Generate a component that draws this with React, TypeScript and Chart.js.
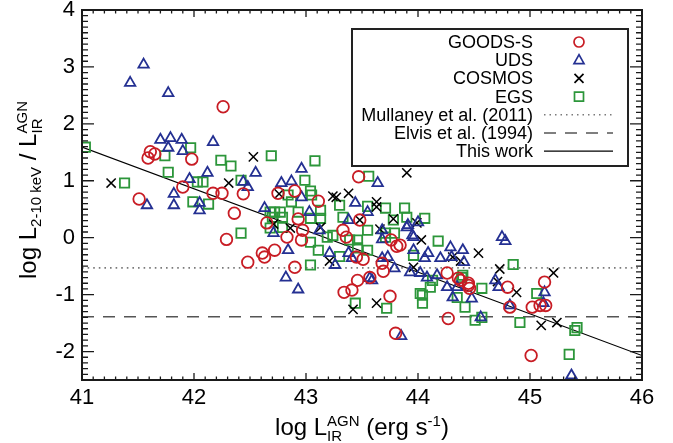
import React, { useEffect, useRef } from "react";
import { Chart, registerables } from "chart.js";

Chart.register(...registerables);

// ---------- data ----------
const xTicks = [41, 42, 43, 44, 45, 46];
const yTicks = [-2, -1, 0, 1, 2, 3, 4];
const xRange = [41, 46];
const yRange = [-2.5, 4];

const legendLabels = [
  "GOODS-S",
  "UDS",
  "COSMOS",
  "EGS",
  "Mullaney et al. (2011)",
  "Elvis et al. (1994)",
  "This work",
];

const goodsX = [42.26, 41.61, 41.65, 41.59, 41.98, 41.9, 42.17, 42.25, 42.44, 41.51, 42.36, 42.65, 42.29, 42.75, 42.9, 43.11, 43.47, 42.93, 42.97, 42.96, 42.83, 42.72, 42.61, 42.63, 42.48, 42.9, 43.33, 43.36, 43.45, 43.51, 43.68, 43.69, 43.57, 43.46, 43.41, 43.34, 43.75, 43.8, 43.76, 43.81, 43.48, 43.84, 44.26, 44.36, 44.45, 44.46, 44.38, 44.45, 44.8, 44.27, 45.13, 45.02, 45.09, 45.14, 44.82, 45.01];
const goodsY = [2.3, 1.51, 1.47, 1.4, 1.38, 0.89, 0.78, 0.78, 0.77, 0.68, 0.43, 0.26, -0.03, 0.78, 0.82, 0.64, 1.07, 0.33, 0.13, -0.04, 0.01, -0.22, -0.27, -0.34, -0.43, -0.52, 0.13, 0.01, -0.34, -0.38, -0.45, -0.59, -0.7, -0.75, -0.92, -0.96, -1.03, -1.68, -0.04, -0.15, 0.31, -0.13, -0.62, -0.71, -0.8, -0.89, -0.75, -0.84, -0.87, -1.42, -0.78, -1.22, -1.19, -1.19, -1.22, -2.07];

const udsX = [41.55, 41.43, 41.77, 41.7, 41.79, 41.89, 42.17, 41.77, 41.9, 42.12, 42.55, 41.96, 42.44, 42.48, 41.82, 41.58, 41.82, 42.05, 42.05, 42.63, 42.71, 42.96, 43.64, 42.78, 42.87, 42.96, 43.44, 44.0, 43.91, 43.95, 43.68, 43.68, 43.03, 43.55, 43.38, 43.12, 42.84, 43.38, 43.41, 43.68, 43.73, 43.79, 43.26, 42.82, 42.93, 43.85, 43.96, 44.09, 44.2, 44.29, 44.4, 44.41, 43.93, 44.02, 44.08, 44.17, 44.26, 44.31, 44.48, 44.3, 44.75, 44.78, 44.69, 44.72, 45.13, 45.12, 44.82, 44.56, 45.37, 43.21, 43.57, 44.35, 44.06, 43.59, 43.9, 43.96];
const udsY = [3.04, 2.72, 2.54, 1.72, 1.75, 1.72, 1.68, 1.58, 1.52, 1.14, 1.14, 1.03, 0.98, 0.89, 0.77, 0.57, 0.57, 0.61, 0.48, 0.52, 0.08, 1.21, 0.96, 0.96, 0.99, 0.71, 0.61, 0.27, 0.22, 0.04, 0.13, -0.03, 0.45, 0.45, 0.31, 0.13, -0.22, -0.27, -0.36, -0.36, -0.34, -0.54, -0.48, -0.7, -0.91, -1.73, -0.22, -0.27, -0.36, -0.17, -0.22, -0.43, -0.61, -0.62, -0.7, -0.66, -0.87, -1.05, -1.07, -0.34, 0.01, -0.06, -0.75, -0.87, -0.96, -1.15, -1.19, -1.4, -2.42, -0.27, -0.71, -0.87, -0.36, -0.75, 0.18, 0.01];

const cosmosX = [42.53, 41.26, 42.31, 42.71, 43.9, 42.76, 43.24, 43.27, 43.38, 43.63, 43.63, 43.78, 43.99, 44.03, 43.66, 43.13, 42.86, 43.21, 43.96, 44.31, 44.38, 44.54, 44.73, 44.71, 44.88, 45.21, 43.42, 43.63, 45.1, 45.24, 43.48];
const cosmosY = [1.42, 0.96, 0.96, 0.24, 1.14, 0.77, 0.73, 0.71, 0.78, 0.63, 0.54, 0.33, 0.26, -0.04, 0.15, 0.18, 0.17, -0.41, -0.52, -0.34, -0.41, -0.27, -0.55, -0.77, -0.96, -0.62, -1.26, -1.15, -1.54, -1.49, 0.31];

const egsX = [41.03, 41.97, 41.74, 42.69, 42.24, 42.33, 41.77, 41.38, 42.03, 42.08, 42.42, 41.99, 42.13, 42.42, 43.08, 43.56, 42.99, 42.84, 42.87, 43.04, 43.05, 43.13, 43.55, 43.71, 43.88, 44.06, 43.79, 43.71, 43.3, 43.33, 43.13, 43.78, 43.9, 44.18, 43.55, 43.71, 43.39, 43.19, 43.24, 43.04, 43.11, 42.68, 42.72, 42.79, 42.79, 43.04, 42.93, 43.46, 43.55, 43.46, 43.04, 43.3, 42.68, 42.77, 43.96, 44.13, 44.11, 44.04, 44.04, 44.42, 44.39, 44.57, 44.85, 45.06, 44.51, 44.57, 44.91, 45.42, 45.4, 45.35, 43.44, 43.72, 44.02, 44.35, 44.4, 42.7];
const egsY = [1.59, 1.58, 1.44, 1.44, 1.36, 1.26, 1.15, 0.96, 0.98, 0.98, 1.01, 0.63, 0.59, 0.08, 1.35, 1.08, 1.01, 0.75, 0.63, 0.82, 0.75, 0.48, 0.55, 0.52, 0.52, 0.34, 0.08, 0.08, 0.57, 0.36, 0.34, 0.31, 0.36, -0.06, 0.13, 0.01, -0.04, 0.01, 0.04, -0.08, -0.22, 0.45, 0.45, 0.36, 0.18, 0.34, 0.45, -0.18, -0.22, -0.04, -0.48, -0.33, 0.17, 0.45, -0.31, -0.75, -0.87, -1.01, -1.15, -1.22, -0.7, -0.89, -0.47, -0.98, -1.45, -1.4, -1.49, -1.58, -1.63, -2.05, -1.15, -1.24, -0.98, -1.05, -0.66, 0.36];

const mullaneyX = [41, 46];
const mullaneyY = [-0.53, -0.53];
const elvisX = [41, 46];
const elvisY = [-1.39, -1.39];
const fitX = [41, 46];
const fitY = [1.59, -2.07];

// ---------- styles ----------
const RED = "rgb(200,28,36)";
const BLUE = "rgb(36,48,146)";
const GREEN = "rgb(44,150,58)";
const BLACK = "#000";
const DOT_GRAY = "#7a7a7a";
const DASH_GRAY = "#555";
const FONT = '"Liberation Sans", Arial, Helvetica, sans-serif';

const pts = (xs: number[], ys: number[]) => xs.map((x, i) => ({ x, y: ys[i] }));

type Seg =
  | { t: string; size: number; dy: number }
  | { sup: string; sub: string; size: number; up: number; down: number };

function segWidth(ctx: CanvasRenderingContext2D, s: Seg) {
  ctx.font = `${s.size}px ${FONT}`;
  if ("t" in s) return ctx.measureText(s.t).width;
  return Math.max(ctx.measureText(s.sup).width, ctx.measureText(s.sub).width);
}

function drawSegs(ctx: CanvasRenderingContext2D, segs: Seg[], cx: number, baseline: number) {
  const total = segs.reduce((a, s) => a + segWidth(ctx, s), 0);
  let x = cx - total / 2;
  ctx.textAlign = "left";
  ctx.textBaseline = "alphabetic";
  ctx.fillStyle = "#000";
  for (const s of segs) {
    ctx.font = `${s.size}px ${FONT}`;
    if ("t" in s) {
      ctx.fillText(s.t, x, baseline + s.dy);
    } else {
      ctx.fillText(s.sup, x, baseline - s.up);
      ctx.fillText(s.sub, x, baseline + s.down);
    }
    x += segWidth(ctx, s);
  }
}

function drawMarker(ctx: CanvasRenderingContext2D, kind: string, x: number, y: number, color: string) {
  ctx.save();
  ctx.strokeStyle = color;
  ctx.lineWidth = 1.7;
  ctx.beginPath();
  if (kind === "circle") {
    ctx.arc(x, y, 5, 0, Math.PI * 2);
  } else if (kind === "triangle") {
    ctx.moveTo(x, y - 5.5);
    ctx.lineTo(x + 5, y + 3.5);
    ctx.lineTo(x - 5, y + 3.5);
    ctx.closePath();
  } else if (kind === "cross") {
    ctx.moveTo(x - 4.5, y - 4.5);
    ctx.lineTo(x + 4.5, y + 4.5);
    ctx.moveTo(x + 4.5, y - 4.5);
    ctx.lineTo(x - 4.5, y + 4.5);
  } else if (kind === "rect") {
    ctx.rect(x - 4.5, y - 4.5, 9, 9);
  }
  ctx.stroke();
  ctx.restore();
}

const decorPlugin = {
  id: "decor",
  afterDraw(chart: any) {
    const { ctx, chartArea: a, scales } = chart;
    const xs = scales.x;
    const ys = scales.y;
    ctx.save();

    // inward tick marks on all four sides
    ctx.strokeStyle = "#1a1a1a";
    ctx.lineWidth = 1.3;
    ctx.beginPath();
    const nx = Math.round((xRange[1] - xRange[0]) * 10);
    for (let i = 0; i <= nx; i++) {
      const v = xRange[0] + i / 10;
      const px = xs.getPixelForValue(v);
      const len = i % 10 === 0 ? 7 : 3.5;
      ctx.moveTo(px, a.bottom);
      ctx.lineTo(px, a.bottom - len);
      ctx.moveTo(px, a.top);
      ctx.lineTo(px, a.top + len);
    }
    const ny = Math.round((yRange[1] - yRange[0]) * 10);
    for (let i = 0; i <= ny; i++) {
      const v = yRange[0] + i / 10;
      const py = ys.getPixelForValue(v);
      const major = Math.abs(v - Math.round(v)) < 1e-6;
      const len = major ? 12 : 6;
      ctx.moveTo(a.left, py);
      ctx.lineTo(a.left + len, py);
      ctx.moveTo(a.right, py);
      ctx.lineTo(a.right - len, py);
    }
    ctx.stroke();

    // frame
    ctx.lineWidth = 2;
    ctx.strokeStyle = "#1a1a1a";
    ctx.strokeRect(a.left, a.top, a.right - a.left, a.bottom - a.top);

    // x title
    drawSegs(
      ctx,
      [
        { t: "log L", size: 24, dy: 0 },
        { sup: "AGN", sub: "IR", size: 15, up: 9, down: 6 },
        { t: " (erg s", size: 24, dy: 0 },
        { t: "-1", size: 15, dy: -9 },
        { t: ")", size: 24, dy: 0 },
      ],
      (a.left + a.right) / 2,
      435
    );

    // y title (rotated)
    ctx.save();
    ctx.translate(36, 190);
    ctx.rotate(-Math.PI / 2);
    drawSegs(
      ctx,
      [
        { t: "log L", size: 24, dy: 0 },
        { t: "2-10 keV", size: 15, dy: 5 },
        { t: " / L", size: 24, dy: 0 },
        { sup: "AGN", sub: "IR", size: 15, up: 9, down: 6 },
      ],
      0,
      0
    );
    ctx.restore();

    // legend box
    const bx = 352, by = 29, bw = 276, bh = 137;
    ctx.fillStyle = "#fff";
    ctx.fillRect(bx, by, bw, bh);
    ctx.lineWidth = 2;
    ctx.strokeStyle = "#222";
    ctx.strokeRect(bx, by, bw, bh);

    const kinds = ["circle", "triangle", "cross", "rect"];
    const colors = [RED, BLUE, BLACK, GREEN];
    legendLabels.forEach((label, i) => {
      const ry = 42 + i * 18.2;
      ctx.fillStyle = "#000";
      ctx.font = `18px ${FONT}`;
      ctx.textAlign = "right";
      ctx.textBaseline = "middle";
      ctx.fillText(label, 533, ry + 1);
      if (i < 4) {
        drawMarker(ctx, kinds[i], 579, ry, colors[i]);
      } else {
        ctx.save();
        ctx.beginPath();
        if (i === 4) {
          ctx.strokeStyle = DOT_GRAY;
          ctx.lineWidth = 1.5;
          ctx.setLineDash([1.5, 4]);
        } else if (i === 5) {
          ctx.strokeStyle = DASH_GRAY;
          ctx.lineWidth = 1.5;
          ctx.setLineDash([12, 9]);
        } else {
          ctx.strokeStyle = "#000";
          ctx.lineWidth = 1.2;
        }
        ctx.moveTo(544, ry);
        ctx.lineTo(613, ry);
        ctx.stroke();
        ctx.restore();
      }
    });

    ctx.restore();
  },
};

export default function App() {
  const canvasRef = useRef<HTMLCanvasElement | null>(null);

  useEffect(() => {
    const canvas = canvasRef.current;
    if (!canvas) return;

    const fitAxisX = (s: any) => {
      s.height = 63;
      s.paddingLeft = 0;
      s.paddingRight = 0;
      s.paddingTop = 0;
      s.paddingBottom = 0;
    };
    const fitAxisY = (s: any) => {
      s.width = 82;
      s.paddingLeft = 0;
      s.paddingRight = 0;
      s.paddingTop = 0;
      s.paddingBottom = 0;
    };

    const markerBase = {
      showLine: false,
      pointBackgroundColor: "rgba(0,0,0,0)",
      pointBorderWidth: 1.8,
      pointHoverRadius: 0,
    };

    const chart = new Chart(canvas, {
      type: "scatter",
      data: {
        datasets: [
          {
            label: legendLabels[0],
            data: pts(goodsX, goodsY),
            pointStyle: "circle",
            pointRadius: 5.8,
            pointBorderColor: RED,
            borderColor: RED,
            ...markerBase,
          },
          {
            label: legendLabels[1],
            data: pts(udsX, udsY),
            pointStyle: "triangle",
            pointRadius: 6,
            pointBorderColor: BLUE,
            borderColor: BLUE,
            ...markerBase,
          },
          {
            label: legendLabels[2],
            data: pts(cosmosX, cosmosY),
            pointStyle: "crossRot",
            pointRadius: 6.5,
            pointBorderColor: BLACK,
            borderColor: BLACK,
            ...markerBase,
            pointBorderWidth: 1.5,
          },
          {
            label: legendLabels[3],
            data: pts(egsX, egsY),
            pointStyle: "rect",
            pointRadius: 6.6,
            pointBorderColor: GREEN,
            borderColor: GREEN,
            ...markerBase,
          },
          {
            label: legendLabels[4],
            data: pts(mullaneyX, mullaneyY),
            showLine: true,
            pointRadius: 0,
            borderColor: DOT_GRAY,
            borderWidth: 1.6,
            borderDash: [1.6, 4],
          },
          {
            label: legendLabels[5],
            data: pts(elvisX, elvisY),
            showLine: true,
            pointRadius: 0,
            borderColor: DASH_GRAY,
            borderWidth: 1.5,
            borderDash: [12, 9],
          },
          {
            label: legendLabels[6],
            data: pts(fitX, fitY),
            showLine: true,
            pointRadius: 0,
            borderColor: "#000",
            borderWidth: 1.2,
          },
        ],
      },
      options: {
        animation: false,
        responsive: false,
        events: [],
        layout: { padding: { top: 10, right: 31, left: 0, bottom: 0 } },
        plugins: {
          legend: { display: false },
          tooltip: { enabled: false },
          title: { display: false },
        },
        scales: {
          x: {
            type: "linear",
            min: xRange[0],
            max: xRange[1],
            grid: { display: false, drawTicks: false },
            border: { display: false },
            afterBuildTicks: (s: any) => {
              s.ticks = xTicks.map((v) => ({ value: v }));
            },
            afterFit: fitAxisX,
            ticks: {
              color: "#000",
              padding: 5,
              maxRotation: 0,
              autoSkip: false,
              font: { family: FONT, size: 22 },
              callback: (v: any) => String(v),
            },
          },
          y: {
            type: "linear",
            min: yRange[0],
            max: yRange[1],
            grid: { display: false, drawTicks: false },
            border: { display: false },
            afterBuildTicks: (s: any) => {
              s.ticks = yTicks.map((v) => ({ value: v }));
            },
            afterFit: fitAxisY,
            ticks: {
              color: "#000",
              padding: 7,
              autoSkip: false,
              font: { family: FONT, size: 22 },
              callback: (v: any) => String(v),
            },
          },
        },
      },
      plugins: [decorPlugin],
    });

    return () => chart.destroy();
  }, []);

  return (
    <div style={{ position: "absolute", left: 0, top: 0, width: 673, height: 443, background: "#fff" }}>
      <canvas ref={canvasRef} width={673} height={443} style={{ display: "block", width: 673, height: 443 }} />
    </div>
  );
}
